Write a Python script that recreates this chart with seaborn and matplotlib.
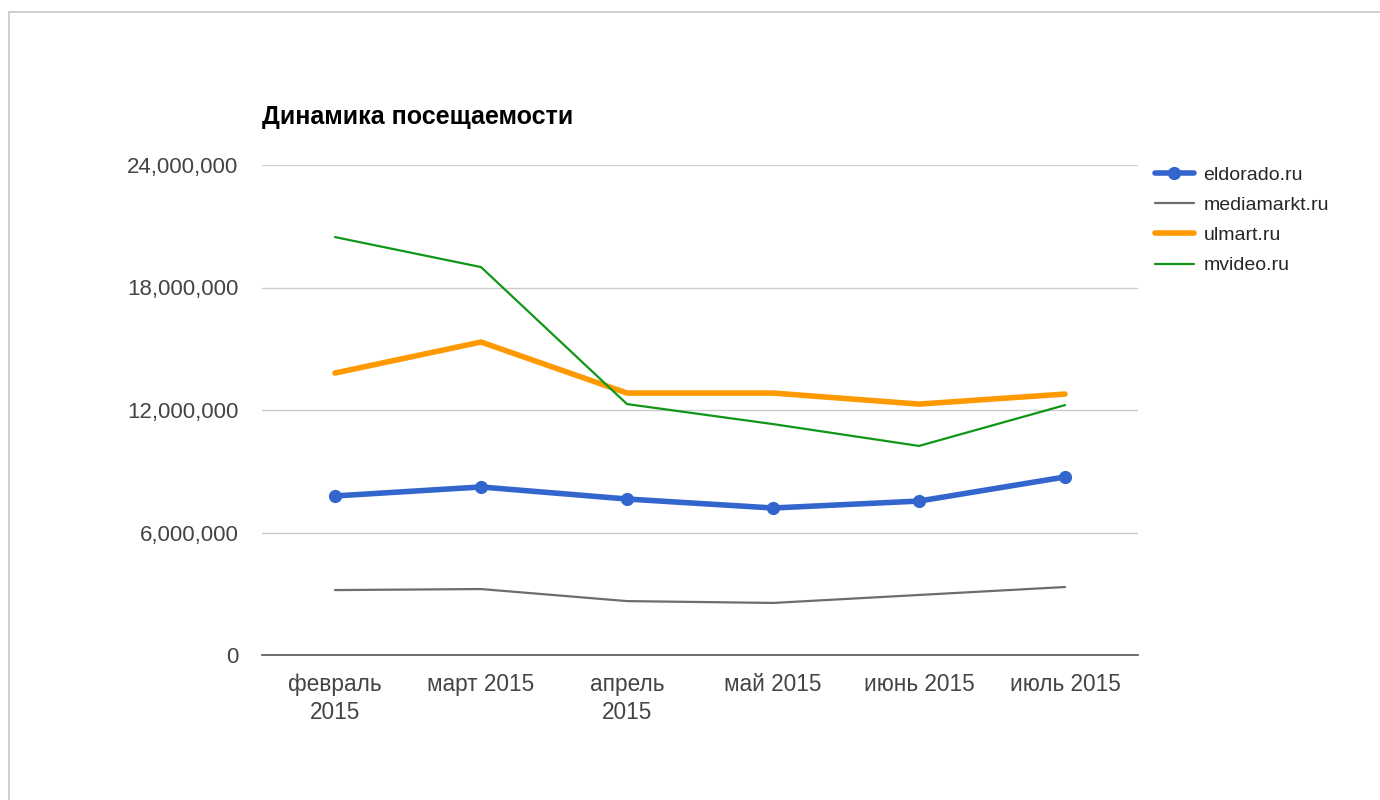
import matplotlib
matplotlib.use('Agg')
import matplotlib.pyplot as plt
from matplotlib.lines import Line2D
from matplotlib.ticker import FuncFormatter
import seaborn as sns
import pandas as pd

# data
months = ["февраль\n2015", "март 2015", "апрель\n2015", "май 2015", "июнь 2015", "июль 2015"]
eldorado = [7.79e6, 8.23e6, 7.64e6, 7.20e6, 7.54e6, 8.72e6]
mediamarkt = [3.18e6, 3.23e6, 2.64e6, 2.55e6, 2.94e6, 3.33e6]
ulmart = [13.81e6, 15.33e6, 12.83e6, 12.83e6, 12.29e6, 12.78e6]
mvideo = [20.47e6, 19.00e6, 12.29e6, 11.31e6, 10.24e6, 12.24e6]
y_ticks = [0, 6e6, 12e6, 18e6, 24e6]

series = [
    ("eldorado.ru", eldorado, "#3366cc", 4.0, "o"),
    ("mediamarkt.ru", mediamarkt, "#6d6d6d", 1.6, None),
    ("ulmart.ru", ulmart, "#ff9900", 4.0, None),
    ("mvideo.ru", mvideo, "#109618", 1.6, None),
]

sns.set_style("white")
plt.rcParams['font.family'] = ['Liberation Sans', 'DejaVu Sans']

fig = plt.figure(figsize=(13.8, 8), dpi=100)
ax = fig.add_axes([262 / 1380, 1 - 655 / 800, 876 / 1380, 490 / 800])

x_pos = list(range(len(months)))
for name, vals, color, lw, marker in series:
    df = pd.DataFrame({"x": x_pos, "y": vals})
    sns.lineplot(data=df, x="x", y="y", ax=ax, color=color, linewidth=lw,
                 marker=marker, markersize=9.5 if marker else 0,
                 markeredgewidth=0, label=name)

ax.set_xlim(-0.5, len(months) - 0.5)
ax.set_ylim(0, 24e6)
ax.set_yticks(y_ticks)
ax.yaxis.set_major_formatter(FuncFormatter(lambda v, p: f"{int(v):,}"))
ax.set_xticks(x_pos)
ax.set_xticklabels(months, fontsize=16.3, color="#444444", linespacing=1.25)
ax.tick_params(axis='y', labelsize=16, colors="#444444", length=0, pad=17)
ax.tick_params(axis='x', length=0, pad=13)
ax.set_xlabel("")
ax.set_ylabel("")
ax.grid(axis='y', color="#cccccc", linewidth=1)
for s in ["top", "right", "left"]:
    ax.spines[s].set_visible(False)
ax.spines["bottom"].set_color("#555555")
ax.spines["bottom"].set_linewidth(1.2)

fig.text(262 / 1380, 1 - 117 / 800, "Динамика посещаемости", fontsize=18,
         fontweight="bold", va="center", ha="left", color="black")

ax.legend(loc="upper left", bbox_to_anchor=(1155 / 1380, 1 - 166 / 800),
          bbox_transform=fig.transFigure, frameon=False, fontsize=14,
          handlelength=2.0, handletextpad=0.5, labelspacing=0.65, borderpad=0,
          borderaxespad=0)

# light frame at top and left like the source screenshot
fig.add_artist(Line2D([9 / 1380, 1], [1 - 12 / 800, 1 - 12 / 800],
                      transform=fig.transFigure, color="#c8c8c8", linewidth=1.2))
fig.add_artist(Line2D([9 / 1380, 9 / 1380], [0, 1 - 12 / 800],
                      transform=fig.transFigure, color="#c8c8c8", linewidth=1.2))

fig.savefig("out.png", dpi=100, facecolor="white")
